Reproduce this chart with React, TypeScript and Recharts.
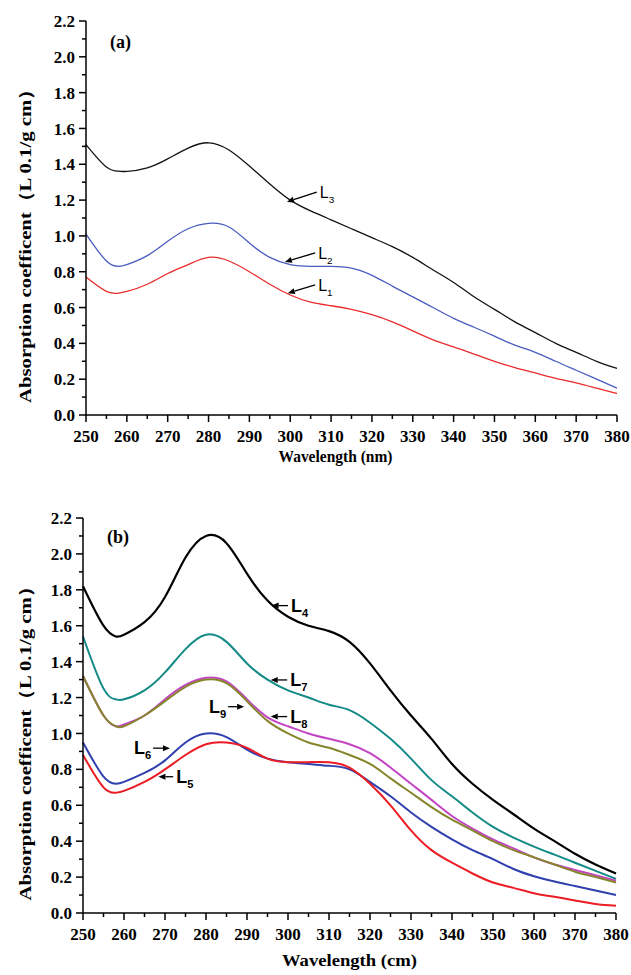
import React from 'react';
import { LineChart, Line, XAxis, YAxis, ReferenceLine } from 'recharts';

// wavelength grid (nm) shared by every curve
const WAVELENGTHS = [250, 255, 258, 260, 265, 270, 275, 280, 285, 290, 295, 300, 305, 310, 315, 320, 325, 330, 335, 340, 345, 350, 355, 360, 365, 370, 375, 380];

// panel (a)
const L1 = [0.77, 0.69, 0.68, 0.69, 0.73, 0.79, 0.84, 0.88, 0.86, 0.80, 0.73, 0.67, 0.63, 0.61, 0.59, 0.56, 0.52, 0.47, 0.42, 0.38, 0.34, 0.30, 0.265, 0.235, 0.205, 0.18, 0.15, 0.12];
const L2 = [1.01, 0.86, 0.83, 0.84, 0.89, 0.97, 1.04, 1.07, 1.05, 0.96, 0.88, 0.84, 0.83, 0.83, 0.82, 0.78, 0.72, 0.66, 0.60, 0.54, 0.49, 0.44, 0.39, 0.35, 0.30, 0.25, 0.20, 0.15];
const L3 = [1.51, 1.385, 1.362, 1.36, 1.38, 1.43, 1.49, 1.52, 1.48, 1.39, 1.29, 1.20, 1.14, 1.09, 1.04, 0.99, 0.94, 0.88, 0.81, 0.74, 0.66, 0.59, 0.52, 0.46, 0.40, 0.35, 0.30, 0.26];

// panel (b)
const L4 = [1.82, 1.60, 1.54, 1.55, 1.62, 1.76, 1.98, 2.10, 2.06, 1.89, 1.74, 1.65, 1.60, 1.57, 1.51, 1.39, 1.24, 1.10, 0.97, 0.83, 0.72, 0.63, 0.55, 0.47, 0.40, 0.33, 0.27, 0.22];
const L5 = [0.88, 0.70, 0.67, 0.68, 0.73, 0.80, 0.88, 0.94, 0.95, 0.92, 0.86, 0.84, 0.84, 0.84, 0.81, 0.72, 0.60, 0.46, 0.35, 0.28, 0.22, 0.17, 0.14, 0.11, 0.09, 0.07, 0.05, 0.04];
const L6 = [0.95, 0.76, 0.72, 0.73, 0.78, 0.85, 0.95, 1.00, 0.98, 0.91, 0.86, 0.84, 0.83, 0.82, 0.80, 0.73, 0.65, 0.56, 0.48, 0.41, 0.35, 0.30, 0.245, 0.205, 0.175, 0.15, 0.125, 0.10];
const L7 = [1.54, 1.25, 1.19, 1.19, 1.24, 1.34, 1.47, 1.55, 1.51, 1.39, 1.30, 1.24, 1.20, 1.16, 1.13, 1.06, 0.97, 0.86, 0.74, 0.65, 0.56, 0.48, 0.42, 0.37, 0.325, 0.28, 0.235, 0.19];
const L8 = [1.32, 1.10, 1.04, 1.05, 1.10, 1.19, 1.27, 1.31, 1.29, 1.19, 1.09, 1.04, 1.00, 0.97, 0.94, 0.89, 0.81, 0.72, 0.63, 0.54, 0.47, 0.41, 0.36, 0.31, 0.27, 0.24, 0.21, 0.18];
const L9 = [1.32, 1.10, 1.04, 1.04, 1.10, 1.18, 1.26, 1.30, 1.28, 1.18, 1.07, 1.00, 0.95, 0.92, 0.88, 0.83, 0.75, 0.67, 0.59, 0.52, 0.46, 0.40, 0.35, 0.31, 0.27, 0.23, 0.20, 0.17];

const X_TICKS = [250, 255, 260, 265, 270, 275, 280, 285, 290, 295, 300, 305, 310, 315, 320, 325, 330, 335, 340, 345, 350, 355, 360, 365, 370, 375, 380];
const Y_TICKS = [0, 0.1, 0.2, 0.3, 0.4, 0.5, 0.6, 0.7, 0.8, 0.9, 1.0, 1.1, 1.2, 1.3, 1.4, 1.5, 1.6, 1.7, 1.8, 1.9, 2.0, 2.1, 2.2];

const dataA = WAVELENGTHS.map((w, i) => ({ w, L1: L1[i], L2: L2[i], L3: L3[i] }));
const dataB = WAVELENGTHS.map((w, i) => ({ w, L4: L4[i], L5: L5[i], L6: L6[i], L7: L7[i], L8: L8[i], L9: L9[i] }));

const SERIF = "'Liberation Serif', 'Times New Roman', serif";
const SANS = "'Liberation Sans', Arial, sans-serif";

const YTick = ({ x, y, payload }: any) => {
  const major = Math.round(payload.value * 10) % 2 === 0;
  return (
    <g>
      <line x1={x} y1={y} x2={x - (major ? 7 : 4)} y2={y} stroke="#000" strokeWidth={1.5} />
      {major && (
        <text x={x - 11} y={y} dy="0.36em" textAnchor="end" fontFamily={SERIF} fontWeight="bold" fontSize={17} fill="#000">
          {payload.value.toFixed(1)}
        </text>
      )}
    </g>
  );
};

const XTick = ({ x, y, payload }: any) => {
  const major = payload.value % 10 === 0;
  return (
    <g>
      <line x1={x} y1={y} x2={x} y2={y + (major ? 7 : 4)} stroke="#000" strokeWidth={1.5} />
      {major && (
        <text x={x} y={y + 27} textAnchor="middle" fontFamily={SERIF} fontWeight="bold" fontSize={17} fill="#000">
          {payload.value}
        </text>
      )}
    </g>
  );
};

const yTitle = (dy: number) => (props: any) => {
  const vb = props.viewBox;
  const cx = vb.x + 25;
  const cy = vb.y + vb.height / 2 + dy;
  return (
    <text x={cx} y={cy} transform={`rotate(-90 ${cx} ${cy})`} textAnchor="middle" dy="0.35em"
      fontFamily={SERIF} fontWeight="bold" fontSize={17} fill="#000" textLength={324} lengthAdjust="spacingAndGlyphs">
      Absorption coefficent（L 0.1/g cm）
    </text>
  );
};

const xTitle = (text: string, dx: number, dy: number, len: number, size: number) => (props: any) => {
  const vb = props.viewBox;
  return (
    <text x={vb.x + vb.width / 2 + dx} y={vb.y + dy} textAnchor="middle" fontFamily={SERIF} fontWeight="bold"
      fontSize={size} fill="#000" textLength={len} lengthAdjust="spacingAndGlyphs">
      {text}
    </text>
  );
};

// arrow from label (first point) to curve (second point), label drawn beside the tail
const arrow = (name: string, sub: string, side: 'left' | 'right', bold: boolean, size: number) => (p: any) => {
  const { x1, y1, x2, y2 } = p;
  const ang = Math.atan2(y2 - y1, x2 - x1);
  const len = 7;
  const hw = 3;
  const bx = x2 - len * Math.cos(ang);
  const by = y2 - len * Math.sin(ang);
  const pts = [
    [x2, y2],
    [bx + hw * Math.sin(ang), by - hw * Math.cos(ang)],
    [bx - hw * Math.sin(ang), by + hw * Math.cos(ang)],
  ].map((q) => q.join(',')).join(' ');
  const tx = side === 'right' ? x1 + 3 : x1 - 2;
  return (
    <g>
      <line x1={x1} y1={y1} x2={bx} y2={by} stroke="#000" strokeWidth={1.3} />
      <polygon points={pts} fill="#000" />
      <text x={tx} y={y1 + 6} textAnchor={side === 'right' ? 'start' : 'end'} fontFamily={SANS}
        fontWeight={bold ? 'bold' : 'normal'} fontSize={size} fill="#000">
        {name}
        <tspan dy={5} fontSize={size * 0.62}>{sub}</tspan>
      </text>
    </g>
  );
};

const panelLabel = (text: string, left: number, top: number) => (
  <div style={{ position: 'absolute', left, top, fontFamily: SERIF, fontWeight: 'bold', fontSize: 18, lineHeight: '18px' }}>{text}</div>
);

export default function App() {
  return (
    <div style={{ position: 'absolute', left: 0, top: 0, width: 631, height: 975, background: '#fff' }}>
      <div style={{ position: 'absolute', left: 0, top: 0 }}>
        <LineChart width={631} height={470} data={dataA} margin={{ top: 21, right: 14, left: 0, bottom: 5 }}>
          <XAxis dataKey="w" type="number" domain={[250, 380]} ticks={X_TICKS} interval={0} height={50}
            tick={<XTick />} tickLine={false} tickSize={0} tickMargin={0}
            axisLine={{ stroke: '#000', strokeWidth: 1.5 }} label={xTitle('Wavelength (nm)', -16, 47, 114, 16)} />
          <YAxis type="number" domain={[0, 2.2]} ticks={Y_TICKS} interval={0} width={86}
            tick={<YTick />} tickLine={false} tickSize={0} tickMargin={0}
            axisLine={{ stroke: '#000', strokeWidth: 1.5 }} label={yTitle(23)} />
          <Line dataKey="L3" type="natural" stroke="#111111" strokeWidth={1.3} dot={false} isAnimationActive={false} />
          <Line dataKey="L2" type="natural" stroke="#4a5cc0" strokeWidth={1.3} dot={false} isAnimationActive={false} />
          <Line dataKey="L1" type="natural" stroke="#ea2b2b" strokeWidth={1.3} dot={false} isAnimationActive={false} />
          <ReferenceLine segment={[{ x: 306.5, y: 1.245 }, { x: 299.2, y: 1.19 }]} shape={arrow('L', '3', 'right', false, 16)} />
          <ReferenceLine segment={[{ x: 306.1, y: 0.905 }, { x: 298.7, y: 0.855 }]} shape={arrow('L', '2', 'right', false, 16)} />
          <ReferenceLine segment={[{ x: 306.1, y: 0.726 }, { x: 299.4, y: 0.68 }]} shape={arrow('L', '1', 'right', false, 16)} />
        </LineChart>
      </div>
      {panelLabel('(a)', 110, 33)}
      <div style={{ position: 'absolute', left: 0, top: 480 }}>
        <LineChart width={631} height={495} data={dataB} margin={{ top: 38, right: 15, left: 0, bottom: 7 }}>
          <XAxis dataKey="w" type="number" domain={[250, 380]} ticks={X_TICKS} interval={0} height={55}
            tick={<XTick />} tickLine={false} tickSize={0} tickMargin={0}
            axisLine={{ stroke: '#000', strokeWidth: 1.5 }} label={xTitle('Wavelength (cm)', 0, 53, 135, 17)} />
          <YAxis type="number" domain={[0, 2.2]} ticks={Y_TICKS} interval={0} width={83}
            tick={<YTick />} tickLine={false} tickSize={0} tickMargin={0}
            axisLine={{ stroke: '#000', strokeWidth: 1.5 }} label={yTitle(23)} />
          <Line dataKey="L4" type="natural" stroke="#000000" strokeWidth={2.2} dot={false} isAnimationActive={false} />
          <Line dataKey="L7" type="natural" stroke="#138a86" strokeWidth={2} dot={false} isAnimationActive={false} />
          <Line dataKey="L8" type="natural" stroke="#c445c4" strokeWidth={2} dot={false} isAnimationActive={false} />
          <Line dataKey="L9" type="natural" stroke="#86852c" strokeWidth={2} dot={false} isAnimationActive={false} />
          <Line dataKey="L6" type="natural" stroke="#2f3fae" strokeWidth={2} dot={false} isAnimationActive={false} />
          <Line dataKey="L5" type="natural" stroke="#ec1c24" strokeWidth={2} dot={false} isAnimationActive={false} />
          <ReferenceLine segment={[{ x: 300.0, y: 1.712 }, { x: 296.0, y: 1.712 }]} shape={arrow('L', '4', 'right', true, 18)} />
          <ReferenceLine segment={[{ x: 299.8, y: 1.298 }, { x: 295.8, y: 1.298 }]} shape={arrow('L', '7', 'right', true, 18)} />
          <ReferenceLine segment={[{ x: 299.8, y: 1.094 }, { x: 295.8, y: 1.094 }]} shape={arrow('L', '8', 'right', true, 18)} />
          <ReferenceLine segment={[{ x: 285.4, y: 1.149 }, { x: 289.3, y: 1.149 }]} shape={arrow('L', '9', 'left', true, 18)} />
          <ReferenceLine segment={[{ x: 267.1, y: 0.918 }, { x: 271.2, y: 0.918 }]} shape={arrow('L', '6', 'left', true, 18)} />
          <ReferenceLine segment={[{ x: 272.0, y: 0.759 }, { x: 268.4, y: 0.759 }]} shape={arrow('L', '5', 'right', true, 18)} />
        </LineChart>
      </div>
      {panelLabel('(b)', 107, 528)}
    </div>
  );
}
